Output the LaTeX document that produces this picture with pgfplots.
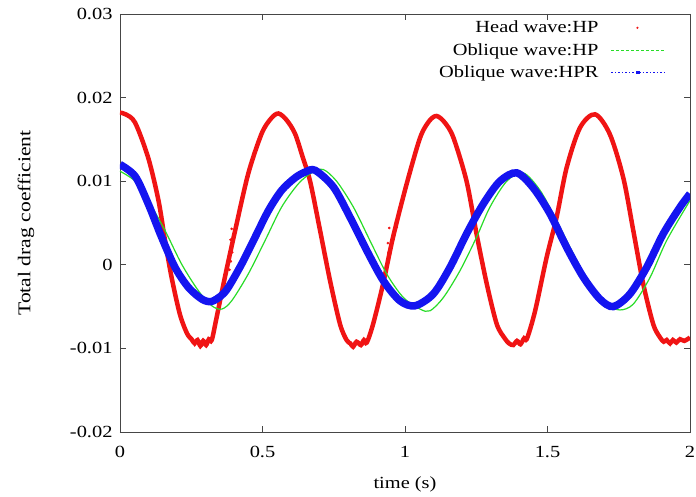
\documentclass[border=0pt]{standalone}
\usepackage{pgfplots}
\pgfplotsset{compat=1.18}
\usepackage{fontspec}
\setmainfont{Liberation Serif}[FakeStretch=1.2]
\definecolor{gred}{RGB}{240,20,20}
\definecolor{ggreen}{RGB}{40,220,40}
\definecolor{gblue}{RGB}{20,20,240}
\definecolor{axgray}{RGB}{70,70,70}
\begin{document}
\begin{tikzpicture}
\useasboundingbox (-120bp,-65bp) rectangle (576bp,432bp);
\begin{axis}[
  at={(0,0)}, anchor=south west,
  scale only axis, width=570bp, height=418bp,
  xmin=0, xmax=2, ymin=-0.02, ymax=0.03,
  xtick={0,0.5,1,1.5,2}, xticklabels={0,0.5,1,1.5,2},
  ytick={-0.02,-0.01,0,0.01,0.02,0.03},
  yticklabels={-0.02,-0.01,0,0.01,0.02,0.03},
  scaled ticks=false,
  tick align=inside, major tick length=6bp,
  tick style={axgray, line width=0.8bp},
  axis line style={axgray, line width=0.9bp},
  minor tick num=0,
  font=\fontsize{17bp}{20bp}\selectfont,
  tick label style={font=\fontsize{17bp}{20bp}\selectfont},
  xticklabel style={yshift=-11bp},
  yticklabel style={xshift=-4bp},
  xlabel={time (s)}, ylabel={Total drag coefficient},
  xlabel style={yshift=-12bp},
  ylabel style={yshift=29bp, font=\fontsize{18bp}{20bp}\selectfont},
  legend cell align=right,
  legend plot pos=right,
  legend style={at={(rel axis cs:1,1)}, anchor=north east, xshift=-22bp, yshift=-4bp,
    draw=none, fill=none, font=\fontsize{17bp}{20bp}\selectfont,
    row sep=7bp, nodes={inner sep=1bp}},
]
\addplot[gred, line width=4.5bp, smooth, tension=0.5,
  legend image code/.code={\fill[gred, draw=none] (38bp,0) circle (1.2bp);\path[draw=none] (0,0) -- (65bp,0);}]
coordinates {
(0,0.0182) (0.02,0.0180) (0.053,0.0170) (0.099,0.0128) (0.135,0.0077)
(0.158,0.0029) (0.181,-0.0015) (0.21,-0.0059) (0.235,-0.0082) (0.251,-0.0089)
(0.262,-0.0094) (0.272,-0.0090) (0.282,-0.0097) (0.292,-0.0091) (0.302,-0.0096)
(0.312,-0.0089) (0.322,-0.0090) (0.339,-0.0063) (0.368,-0.0015) (0.404,0.0041)
(0.45,0.0109) (0.497,0.0157) (0.53,0.0175) (0.556,0.0181) (0.585,0.0173)
(0.614,0.0157) (0.64,0.0130) (0.667,0.0100) (0.702,0.0041) (0.737,-0.0019)
(0.772,-0.0071) (0.795,-0.0090) (0.808,-0.0094) (0.818,-0.0098) (0.830,-0.0092)
(0.845,-0.0096) (0.856,-0.0090) (0.866,-0.0093) (0.888,-0.0071) (0.923,-0.0023)
(0.958,0.0033) (1.006,0.0097) (1.053,0.0152) (1.085,0.0172) (1.111,0.0178)
(1.14,0.0170) (1.17,0.0152) (1.216,0.0100) (1.251,0.0037) (1.287,-0.0023)
(1.322,-0.0071) (1.35,-0.0088) (1.365,-0.0094) (1.38,-0.0096) (1.393,-0.0091)
(1.405,-0.0095) (1.418,-0.0088) (1.427,-0.0089) (1.445,-0.0070) (1.462,-0.0047)
(1.497,0.0009) (1.532,0.0057) (1.567,0.0116) (1.614,0.0164) (1.667,0.0180)
(1.719,0.0156) (1.766,0.0104) (1.801,0.0041) (1.836,-0.0023) (1.871,-0.0071)
(1.895,-0.0087) (1.908,-0.0092) (1.918,-0.0090) (1.93,-0.0094) (1.94,-0.0090)
(1.952,-0.0093) (1.965,-0.0089) (1.98,-0.0091) (2.0,-0.0087)
};
\addlegendentry{Head wave:HP}
\addplot[gred, only marks, mark=*, mark size=1.1bp, forget plot] coordinates {
(0.392,0.0043) (0.388,0.0030) (0.390,0.0022) (0.386,0.0012) (0.389,0.0004)
(0.384,-0.0006) (0.394,0.0015) (0.945,0.0044) (0.971,0.0045) (0.940,0.0026)
(0.942,0.0015) (0.938,0.0005)
};
\addplot[ggreen, line width=1.2bp, smooth,
  legend image code/.code={\draw[ggreen, line width=0.8bp, dash pattern=on 3bp off 2bp] (12bp,0) -- (65bp,0);\path[draw=none] (0,0) -- (12bp,0);}]
coordinates {
(0,0.0112) (0.053,0.0100) (0.099,0.0077) (0.158,0.0041) (0.216,0.0001)
(0.275,-0.0031) (0.322,-0.0049) (0.357,-0.0053) (0.392,-0.0043) (0.450,-0.0011)
(0.509,0.0029) (0.567,0.0069) (0.626,0.0097) (0.672,0.0110) (0.713,0.0114)
(0.760,0.0100) (0.819,0.0069) (0.877,0.0029) (0.936,-0.0011) (0.994,-0.0039)
(1.053,-0.0053) (1.088,-0.0055) (1.135,-0.0039) (1.193,-0.0007) (1.251,0.0033)
(1.298,0.0069) (1.357,0.0100) (1.415,0.0110) (1.474,0.0089) (1.532,0.0053)
(1.591,0.0013) (1.649,-0.0023) (1.708,-0.0047) (1.754,-0.0054) (1.801,-0.0047)
(1.860,-0.0015) (1.918,0.0029) (2.0,0.0077)
};
\addlegendentry{Oblique wave:HP}
\addplot[gblue, line width=7.5bp, smooth,
  legend image code/.code={\draw[gblue, line width=0.8bp, dash pattern=on 1.5bp off 2bp] (12bp,0) -- (65bp,0);\path[draw=none] (0,0) -- (12bp,0);\fill[gblue, draw=none] (36.5bp,-1.8bp) rectangle (40.5bp,1.8bp);}]
coordinates {
(0,0.0120) (0.053,0.0106) (0.099,0.0073) (0.146,0.0033) (0.193,-0.0003)
(0.240,-0.0027) (0.287,-0.0041) (0.320,-0.0044) (0.355,-0.0037) (0.380,-0.0027)
(0.427,0.0001) (0.474,0.0033) (0.521,0.0065) (0.567,0.0089) (0.614,0.0104)
(0.650,0.0111) (0.685,0.0113) (0.749,0.0093) (0.807,0.0057) (0.866,0.0017)
(0.924,-0.0019) (0.982,-0.0043) (1.035,-0.0049) (1.099,-0.0035) (1.158,-0.0003)
(1.216,0.0037) (1.275,0.0073) (1.333,0.0100) (1.392,0.0110) (1.450,0.0092)
(1.509,0.0061) (1.567,0.0021) (1.626,-0.0015) (1.684,-0.0041) (1.731,-0.0050)
(1.789,-0.0035) (1.848,-0.0003) (1.906,0.0037) (1.965,0.0069) (2.0,0.0085)
};
\addlegendentry{Oblique wave:HPR}
\end{axis}
\end{tikzpicture}
\end{document}
